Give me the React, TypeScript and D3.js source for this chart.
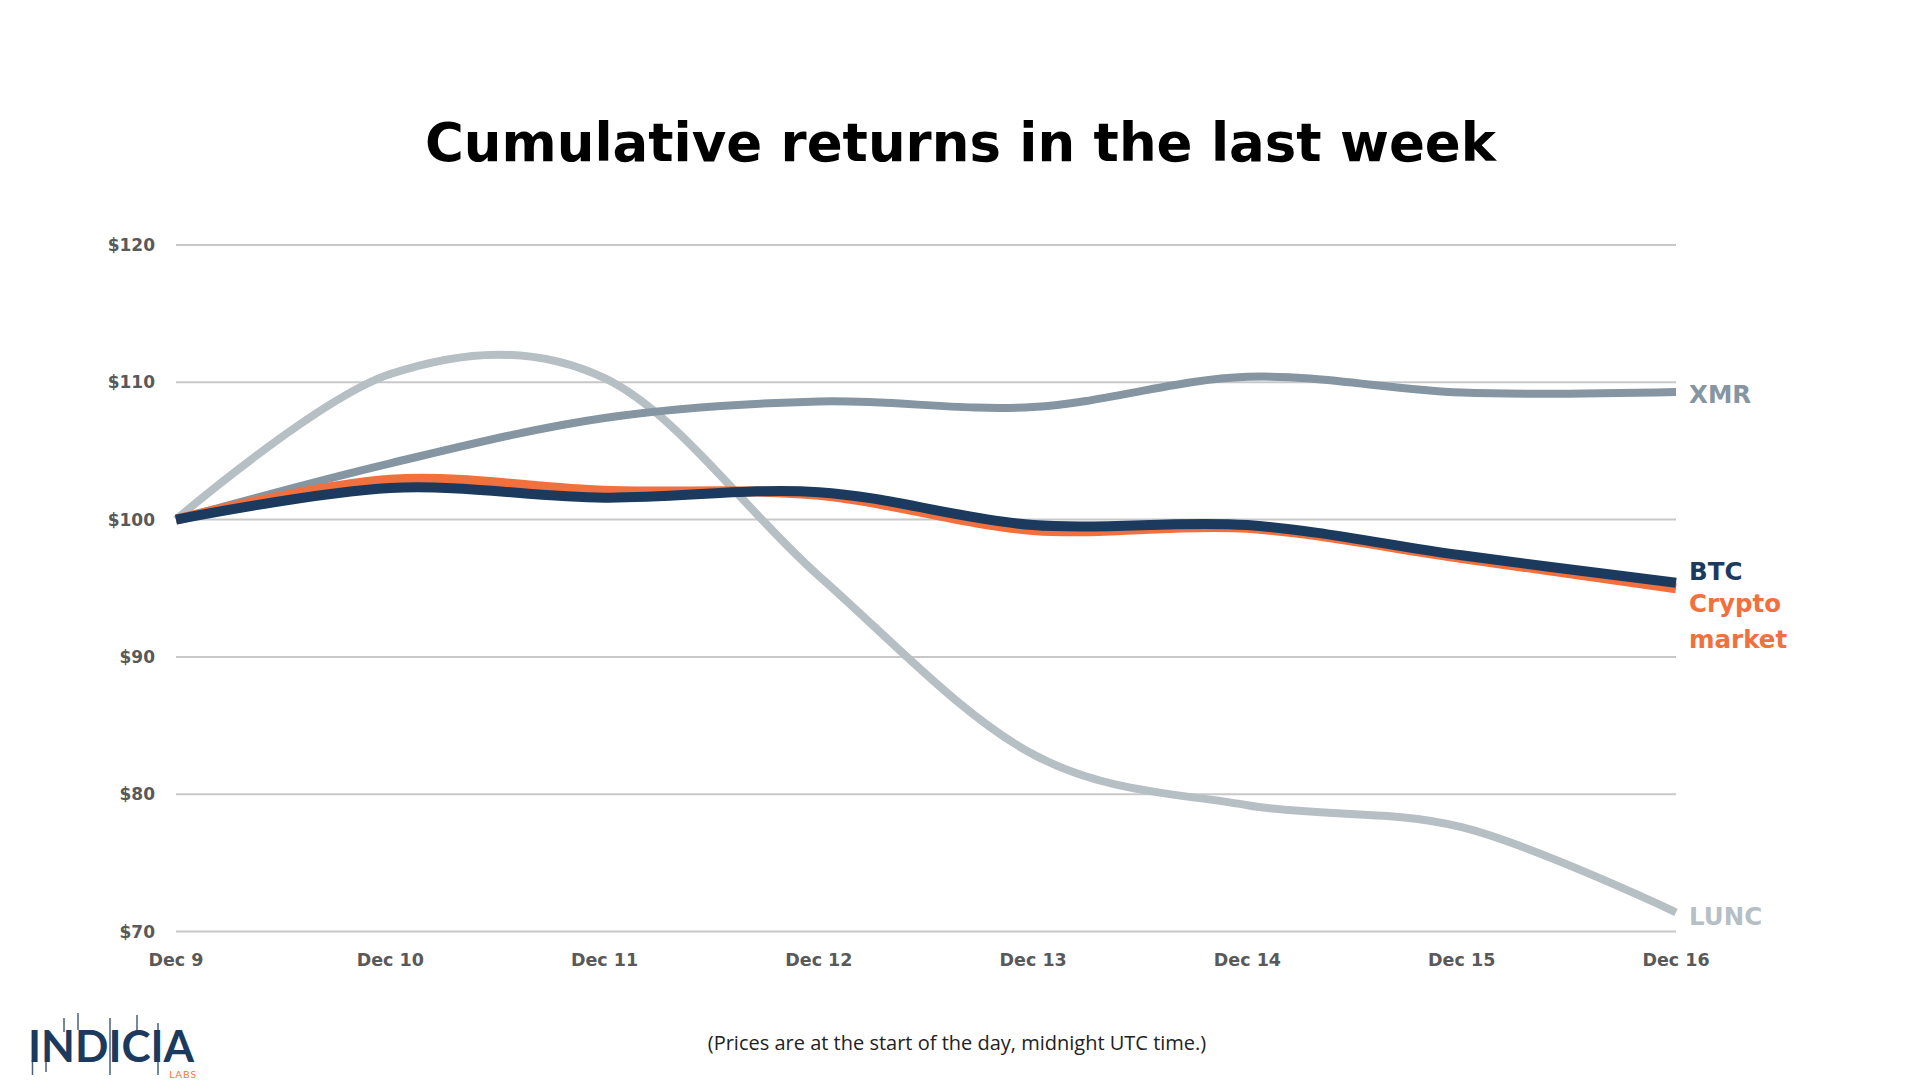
import React from "react";
import * as d3 from "d3";

const dates = ["Dec 9", "Dec 10", "Dec 11", "Dec 12", "Dec 13", "Dec 14", "Dec 15", "Dec 16"];
const xmr = [100, 104.1, 107.4, 108.6, 108.2, 110.4, 109.25, 109.3];
const lunc = [100, 110.6, 110.3, 95.9, 82.9, 79.2, 77.6, 71.4];
const btc = [100, 102.3, 101.6, 102.0, 99.6, 99.6, 97.4, 95.4];
const cryptoMarket = [100, 102.9, 102.1, 101.8, 99.25, 99.4, 97.2, 95.0];
const yTicks = [70, 80, 90, 100, 110, 120];

const seriesList = [
  { name: "LUNC", values: lunc, color: "#B6BFC4", width: 8 },
  { name: "XMR", values: xmr, color: "#8595A2", width: 8 },
  { name: "Crypto market", values: cryptoMarket, color: "#F1703D", width: 10 },
  { name: "BTC", values: btc, color: "#1B3A5E", width: 10 },
];

const BOLD = "'DejaVu Sans', Lato, sans-serif";
const LOGO = "Lato, 'Open Sans', sans-serif";

export default function App() {
  const x = d3.scalePoint<string>().domain(dates).range([176, 1676]);
  const y = d3.scaleLinear().domain([70, 120]).range([931.5, 245]);
  const line = d3
    .line<number>()
    .x((_, i) => x(dates[i]) as number)
    .y((d) => y(d))
    .curve(d3.curveCardinal.tension(0));

  const endX = x(dates[dates.length - 1]) as number;
  const lx = endX + 13;

  const wicks = [
    [32.5, 1060, 1075],
    [46, 1061, 1072],
    [64, 1018, 1032],
    [78, 1013, 1030],
    [110, 1018, 1075],
    [137, 1015, 1031],
    [158, 1023, 1075],
  ];

  return (
    <svg
      width={1920}
      height={1080}
      viewBox="0 0 1920 1080"
      style={{ position: "absolute", left: 0, top: 0, background: "#fff" }}
    >
      <rect width={1920} height={1080} fill="#fff" />
      <text
        x={425}
        y={161}
        textLength={1071}
        lengthAdjust="spacingAndGlyphs"
        fontFamily={BOLD}
        fontWeight={700}
        fontSize={54}
        fill="#000"
      >
        Cumulative returns in the last week
      </text>

      {yTicks.map((t) => (
        <g key={t}>
          <line x1={176} x2={1676} y1={y(t)} y2={y(t)} stroke="#C8C8C8" strokeWidth={2} />
          <text
            x={155}
            y={y(t)}
            dy="0.36em"
            textAnchor="end"
            fontFamily={BOLD}
            fontWeight={700}
            fontSize={17}
            fill="#595959"
          >
            {"$" + t}
          </text>
        </g>
      ))}

      {dates.map((d) => (
        <text
          key={d}
          x={x(d) as number}
          y={966}
          textAnchor="middle"
          fontFamily={BOLD}
          fontWeight={700}
          fontSize={17.5}
          fill="#595959"
        >
          {d}
        </text>
      ))}

      {seriesList.map((s) => (
        <path
          key={s.name}
          d={line(s.values) as string}
          fill="none"
          stroke={s.color}
          strokeWidth={s.width}
        />
      ))}

      <text x={lx} y={402.5} fontFamily={BOLD} fontWeight={700} fontSize={24.5} fill="#8595A2">
        XMR
      </text>
      <text x={lx} y={580} fontFamily={BOLD} fontWeight={700} fontSize={24.5} fill="#1B3A5E">
        BTC
      </text>
      <text x={lx} y={612} fontFamily={BOLD} fontWeight={700} fontSize={24.5} fill="#F1703D">
        Crypto
      </text>
      <text x={lx} y={648} fontFamily={BOLD} fontWeight={700} fontSize={24.5} fill="#F1703D">
        market
      </text>
      <text x={lx} y={925} fontFamily={BOLD} fontWeight={700} fontSize={24.5} fill="#B6BFC4">
        LUNC
      </text>

      <text
        x={957}
        y={1050}
        textAnchor="middle"
        fontFamily="'Open Sans', sans-serif"
        fontSize={20}
        fill="#222"
      >
        (Prices are at the start of the day, midnight UTC time.)
      </text>

      <g>
        {wicks.map((w, i) => (
          <line key={i} x1={w[0]} x2={w[0]} y1={w[1]} y2={w[2]} stroke="#1B3A5E" strokeWidth={1.5} opacity={0.8} />
        ))}
        <text x={28} y={1062} fontFamily={LOGO} fontWeight={700} fontSize={44} fill="#1B3A5E">
          INDICIA
        </text>
        <text x={197} y={1078} textAnchor="end" fontFamily={LOGO} fontSize={10} fill="#F1703D" letterSpacing={1}>
          LABS
        </text>
      </g>
    </svg>
  );
}
